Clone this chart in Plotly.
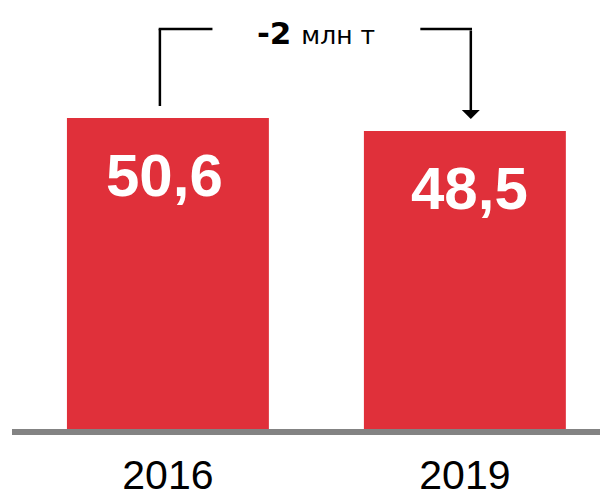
import plotly.graph_objects as go

# data
years = ["2016", "2019"]
volumes = [50.6, 48.5]
value_labels = ["50,6", "48,5"]
change_value = "-2"
change_unit = "млн т"

RED = "#E0303A"
GREY = "#838383"
FONT = "Liberation Sans, Arial, sans-serif"

fig = go.Figure()

fig.add_trace(go.Bar(
    x=years,
    y=volumes,
    marker_color=RED,
    marker_line_width=0,
    hovertemplate="%{x}: %{y:.1f} млн т<extra></extra>",
))

# white value labels inside the bars, near the top
# (category axis: use the index so "2016" isn't read as a number)
label_nudge = [-3, 5]  # px, labels aren't exactly centred in the original
for i, (v, lbl) in enumerate(zip(volumes, value_labels)):
    fig.add_annotation(
        x=i, y=v, text=f"<b>{lbl}</b>", showarrow=False,
        yanchor="top", yshift=-22, xshift=label_nudge[i],
        font=dict(size=60, color="white", family=FONT),
    )

# bracket showing the change between the two bars
top_y = max(volumes) + 14.5
lift = 1.95
left_x = 0 - 0.027
right_x = 1 + 0.02
mid = 0.5
gap = 0.35
line = dict(color="black", width=2.5)

fig.add_shape(type="line", xref="x", yref="y",
              x0=left_x, x1=left_x, y0=volumes[0] + lift, y1=top_y, line=line)
fig.add_shape(type="line", xref="x", yref="y",
              x0=left_x - 0.004, x1=mid - gap, y0=top_y, y1=top_y, line=line)
fig.add_shape(type="line", xref="x", yref="y",
              x0=mid + gap, x1=right_x + 0.004, y0=top_y, y1=top_y, line=line)
fig.add_annotation(
    x=right_x, y=volumes[1] + lift, ax=right_x, ay=top_y,
    xref="x", yref="y", axref="x", ayref="y",
    text="", showarrow=True, arrowhead=1, arrowsize=1.2, arrowwidth=2.5,
    arrowcolor="black", standoff=0, startstandoff=0,
)
fig.add_annotation(
    x=mid, y=top_y, xref="x", yref="y", showarrow=False,
    yanchor="middle", yshift=-4,
    text=(f"<b>{change_value}</b> "
          f"<span style='font-size:25px'>{change_unit}</span>"),
    font=dict(size=31, color="black", family="DejaVu Sans, sans-serif"),
)

fig.update_layout(
    width=600,
    height=499,
    autosize=False,
    showlegend=False,
    bargap=0.32,
    paper_bgcolor="white",
    plot_bgcolor="white",
    margin=dict(t=0, l=12, r=0, b=70),
    xaxis=dict(
        type="category",
        range=[-0.525, 1.455],
        automargin=False,
        showline=True, linecolor=GREY, linewidth=6,
        ticks="", showgrid=False, zeroline=False,
        ticklabelstandoff=5,
        tickfont=dict(size=41, color="black", family=FONT),
    ),
    yaxis=dict(range=[0, 69.8], visible=False, fixedrange=True),
)

# drop the default 8px body margin so the figure sits at the page corner
fig.write_html("out.html", config={"displayModeBar": False},
               post_script="document.body.style.margin='0';")
